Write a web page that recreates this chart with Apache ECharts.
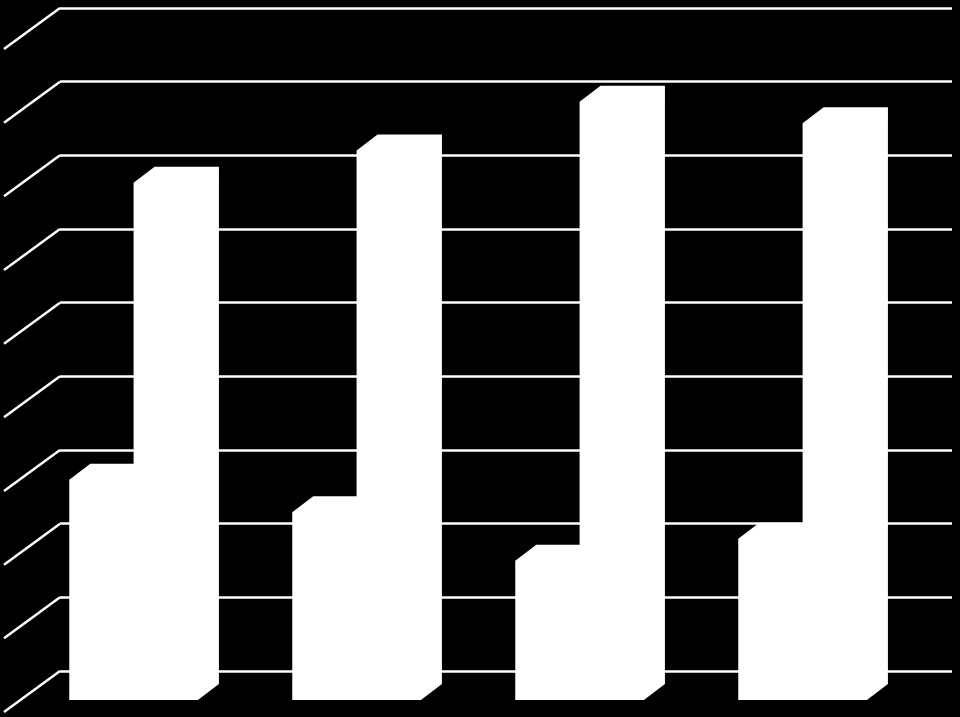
<!DOCTYPE html>
<html>
<head>
<meta charset="utf-8">
<style>html,body{margin:0;padding:0;background:#000;}#c{width:960px;height:717px;}</style>
<script src="https://cdn.jsdelivr.net/npm/echarts@6/dist/echarts.min.js"></script>
</head>
<body>
<div id="c"></div>
<script>
var categories = ['A', 'B', 'C', 'D'];
var seriesFront = [2.99, 2.55, 1.89, 2.19];
var seriesBack = [7.02, 7.46, 8.12, 7.83];
var wallTicks = [0, 1, 2, 3, 4, 5, 6, 7, 8, 9];

var DEPTH_X = 21, DEPTH_Y = 16, FLOOR_DROP = 29;
var WALL_DX = 56, WALL_DY = 41;

function barRenderer(slot) {
  return function (params, api) {
    var band = api.size([1, 0])[0];
    var base = api.coord([api.value(0), 0]);
    var top = api.coord([api.value(0), api.value(1)]);
    var w = band * 0.2885;
    var l = base[0] - band * 0.4585 + slot * w;
    var r = l + w;
    var by = base[1] + FLOOR_DROP;
    var ty = top[1] + FLOOR_DROP;
    return {
      type: 'polygon',
      shape: {
        points: [
          [l, by], [l, ty], [l + DEPTH_X, ty - DEPTH_Y],
          [r + DEPTH_X, ty - DEPTH_Y], [r + DEPTH_X, by - DEPTH_Y], [r, by]
        ]
      },
      style: { fill: '#fff', stroke: null }
    };
  };
}

function wallRenderer(params, api) {
  var y = api.coord([0, api.value(0)])[1];
  var x = params.coordSys.x;
  return {
    type: 'line',
    shape: { x1: x, y1: y, x2: x - WALL_DX, y2: y + WALL_DY },
    style: { stroke: '#fff', lineWidth: 2.5 }
  };
}

var chart = echarts.init(document.getElementById('c'), null, { renderer: 'canvas' });
chart.setOption({
  animation: false,
  backgroundColor: '#000',
  grid: { left: 60, right: 8, top: 8, bottom: 46 },
  xAxis: {
    type: 'category', data: categories,
    axisLine: { show: false }, axisTick: { show: false }, axisLabel: { show: false }
  },
  yAxis: {
    type: 'value', min: 0, max: 9, interval: 1,
    axisLine: { show: false }, axisTick: { show: false }, axisLabel: { show: false },
    splitLine: { show: true, lineStyle: { color: '#fff', width: 2.5 } }
  },
  series: [
    { type: 'custom', name: 'wall', renderItem: wallRenderer, clip: false, silent: true,
      encode: { y: 0 }, data: wallTicks.map(function (t) { return [t]; }), z: 1 },
    { type: 'custom', name: 'Series 2', renderItem: barRenderer(1), clip: false,
      encode: { x: 0, y: 1 }, data: seriesBack.map(function (v, i) { return [i, v]; }), z: 2 },
    { type: 'custom', name: 'Series 1', renderItem: barRenderer(0), clip: false,
      encode: { x: 0, y: 1 }, data: seriesFront.map(function (v, i) { return [i, v]; }), z: 3 }
  ]
});
</script>
</body>
</html>
